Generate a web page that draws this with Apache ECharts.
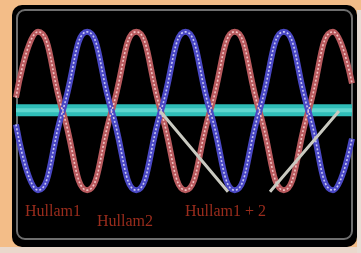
<!DOCTYPE html>
<html>
<head>
<meta charset="utf-8">
<script src="https://cdn.jsdelivr.net/npm/echarts@6/dist/echarts.min.js"></script>
<style>html,body{margin:0;padding:0;background:#f3bd88}#c{width:361px;height:253px}</style>
</head>
<body>
<div id="c"></div>
<script>
// time positions (x) and amplitudes
var wave1 = [[0,0.17],[22,1],[46.6,0],[71.2,-1],[95.7,0],[120.3,1],[144.9,0],[169.5,-1],[194.1,0],[218.7,1],[243.3,0],[267.8,-1],[292.4,0],[317,1],[336,0.35]];
var wave2 = [[0,-0.17],[22,-1],[46.6,0],[71.2,1],[95.7,0],[120.3,-1],[144.9,0],[169.5,1],[194.1,0],[218.7,-1],[243.3,0],[267.8,1],[292.4,0],[317,-1],[336,-0.35]];
var sumLine = [[0,0.01],[336,0.01]];
var sumTrace = [[144,0],[212,-1.02],[233,null],[254,-1.02],[323,0]];
var labels = ['Hullam1','Hullam2','Hullam1 + 2'];

var chart = echarts.init(document.getElementById('c'));
function waveSeries(data, outer, inner){
  return [
    {type:'line', data:data, smooth:true, symbol:'none', lineStyle:{color:outer,width:6}, z:3, silent:true},
    {type:'line', data:data, smooth:true, symbol:'none', lineStyle:{color:inner,width:1.6,type:[2,2]}, z:4, silent:true}
  ];
}
var series = [
  {type:'line', data:sumLine, symbol:'none', lineStyle:{color:'#2fbdb8',width:12}, z:2, silent:true},
  {type:'line', data:sumLine, symbol:'none', lineStyle:{color:'#5fd6cf',width:4}, z:2, silent:true}
].concat(waveSeries(wave1,'#b85a5e','#f2c4c4'))
 .concat(waveSeries(wave2,'#4a48c4','#c8c8f4'))
 .concat([{type:'line', data:sumTrace, symbol:'none', connectNulls:false, lineStyle:{color:'#c9c9c0',width:3}, z:5, silent:true}]);

chart.setOption({
  backgroundColor:'#f3bd88',
  animation:false,
  grid:{left:16,right:9,top:16,bottom:47},
  xAxis:{type:'value',min:0,max:336,show:false},
  yAxis:{type:'value',min:-1.2,max:1.2,show:false},
  graphic:[
    {type:'rect',shape:{x:12,y:5,width:345,height:242,r:10},style:{fill:'#000'},z:-10},
    {type:'rect',shape:{x:17,y:10,width:335,height:229,r:8},style:{fill:'none',stroke:'#6e6e6e',lineWidth:2},z:-9},
    {type:'rect',shape:{x:0,y:247,width:361,height:6},style:{fill:'#ead8cc'},z:-8},
    {type:'rect',shape:{x:357,y:10,width:4,height:243},style:{fill:'#e8dcd4'},z:-8},
    {type:'text',left:25,top:204,style:{text:labels[0],fill:'#9a2c1c',font:'16px "Liberation Serif", serif'},z:10},
    {type:'text',left:97,top:214,style:{text:labels[1],fill:'#9a2c1c',font:'16px "Liberation Serif", serif'},z:10},
    {type:'text',left:185,top:204,style:{text:labels[2],fill:'#9a2c1c',font:'16px "Liberation Serif", serif'},z:10}
  ],
  series:series
});
</script>
</body>
</html>
